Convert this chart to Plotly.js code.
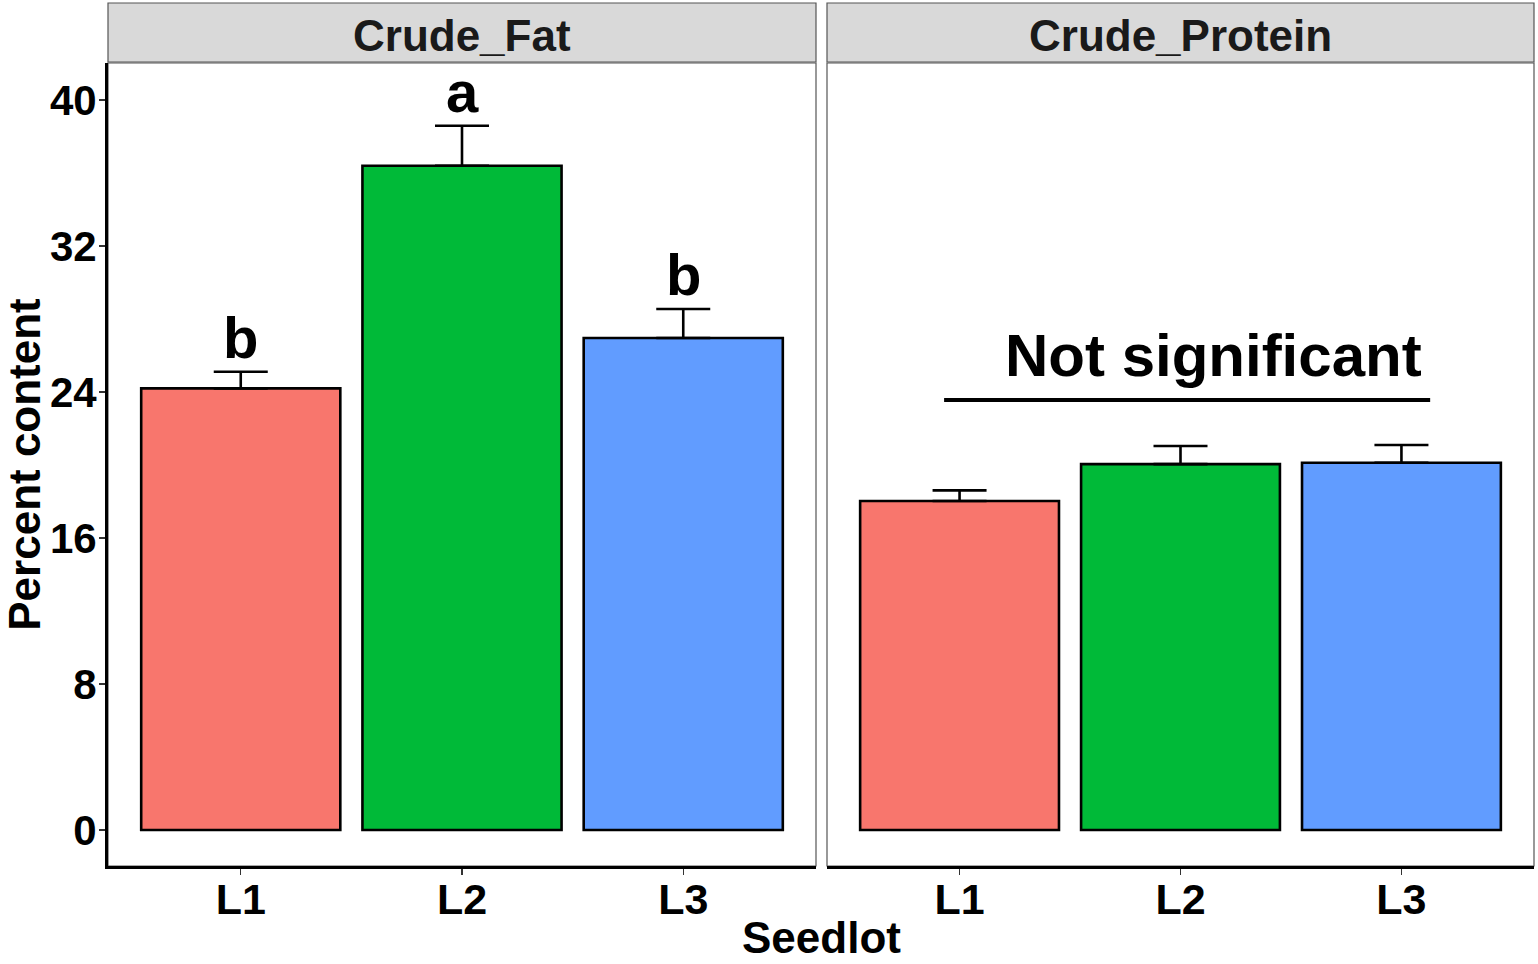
<!DOCTYPE html>
<html>
<head>
<meta charset="utf-8">
<script src="https://cdn.plot.ly/plotly-3.0.1.min.js"></script>
<style>
  html, body { margin: 0; padding: 0; background: #ffffff; }
  #chart { width: 1538px; height: 964px; }
</style>
</head>
<body>
<div id="chart"></div>
<script>
// ---- data ----
const seedlots = ['L1', 'L2', 'L3'];
const panels = ['Crude_Fat', 'Crude_Protein'];
const barColors = ['#F8766D', '#00BA38', '#619CFF'];

const fatMean = [24.2, 36.4, 26.96];
const fatSE = [0.91, 2.19, 1.59];
const fatLetters = ['b', 'a', 'b'];

const proteinMean = [18.03, 20.05, 20.13];
const proteinSE = [0.58, 0.99, 0.97];

const nsLabel = 'Not significant';
const nsLineX = [-0.07, 2.13];
const nsLineY = 23.56;

const yTicks = [0, 8, 16, 24, 32, 40];
const yTitle = 'Percent content';
const xTitle = 'Seedlot';

// ---- layout constants ----
const W = 1538, H = 964;
const FONT = 'Liberation Sans, Arial, Helvetica, sans-serif';
const xDom1 = [108 / W, 816 / W];
const xDom2 = [827 / W, 1534 / W];
const yDom = [(H - 866) / H, (H - 63) / H];
const stripY = [(H - 62) / H, (H - 3) / H];

function barTrace(mean, se, xa, ya) {
  return {
    type: 'bar',
    x: seedlots,
    y: mean,
    xaxis: xa,
    yaxis: ya,
    width: 0.9,
    marker: { color: barColors, line: { color: '#000000', width: 2.6 } },
    error_y: {
      type: 'data',
      symmetric: false,
      array: se,
      arrayminus: se.map(() => 0),
      color: '#000000',
      thickness: 2.6,
      width: 27
    },
    showlegend: false,
    hoverinfo: 'x+y'
  };
}

const data = [
  barTrace(fatMean, fatSE, 'x', 'y'),
  barTrace(proteinMean, proteinSE, 'x2', 'y2')
];

const tickFont = { family: FONT, size: 43, color: '#000000', weight: 'bold' };

function xAxis(dom, anchor) {
  return {
    domain: dom, anchor: anchor,
    type: 'category', categoryorder: 'array', categoryarray: seedlots,
    range: [-0.6, 2.6],
    showgrid: false, zeroline: false,
    showline: true, linecolor: '#000000', linewidth: 3,
    ticks: 'outside', ticklen: 6, tickwidth: 1.2, tickcolor: '#333333',
    ticklabelstandoff: -13,
    tickfont: tickFont, fixedrange: true
  };
}

function yAxis(anchor, showLabels) {
  return {
    domain: yDom, anchor: anchor,
    range: [-1.97, 42.03],
    tickmode: 'array', tickvals: yTicks, ticktext: yTicks.map(String),
    showticklabels: showLabels,
    showgrid: false, zeroline: false,
    showline: showLabels, linecolor: '#000000', linewidth: 3,
    ticks: showLabels ? 'outside' : '', ticklen: 6, tickwidth: 1.2, tickcolor: '#333333',
    ticklabelstandoff: -6,
    tickfont: { family: FONT, size: 42, color: '#000000', weight: 'bold' }, fixedrange: true
  };
}

const layout = {
  width: W, height: H,
  margin: { l: 0, r: 0, t: 0, b: 0 },
  paper_bgcolor: '#ffffff', plot_bgcolor: '#ffffff',
  bargap: 0.1,
  xaxis: xAxis(xDom1, 'y'),
  yaxis: Object.assign(yAxis('x', true), {
    title: { text: yTitle, font: { family: FONT, size: 44, color: '#000000', weight: 'bold' }, standoff: 8 }
  }),
  xaxis2: xAxis(xDom2, 'y2'),
  yaxis2: yAxis('x2', false),
  shapes: [
    // panel borders (thin grey)
    { type: 'rect', xref: 'paper', yref: 'paper', x0: xDom1[0], x1: xDom1[1], y0: yDom[0], y1: yDom[1],
      line: { color: '#555555', width: 1.2 }, layer: 'below' },
    { type: 'rect', xref: 'paper', yref: 'paper', x0: xDom2[0], x1: xDom2[1], y0: yDom[0], y1: yDom[1],
      line: { color: '#555555', width: 1.2 }, layer: 'below' },
    // strips
    { type: 'rect', xref: 'paper', yref: 'paper', x0: xDom1[0], x1: xDom1[1], y0: stripY[0], y1: stripY[1],
      fillcolor: '#D9D9D9', line: { color: '#555555', width: 1.2 } },
    { type: 'rect', xref: 'paper', yref: 'paper', x0: xDom2[0], x1: xDom2[1], y0: stripY[0], y1: stripY[1],
      fillcolor: '#D9D9D9', line: { color: '#555555', width: 1.2 } },
    // "Not significant" bar
    { type: 'line', xref: 'x2', yref: 'y2', x0: nsLineX[0], x1: nsLineX[1], y0: nsLineY, y1: nsLineY,
      line: { color: '#000000', width: 4 } }
  ],
  annotations: [
    // strip labels
    { xref: 'paper', yref: 'paper', x: (xDom1[0] + xDom1[1]) / 2, y: (stripY[0] + stripY[1]) / 2, yshift: -3,
      text: panels[0], showarrow: false, xanchor: 'center', yanchor: 'middle',
      font: { family: FONT, size: 44, color: '#1a1a1a', weight: 'bold' } },
    { xref: 'paper', yref: 'paper', x: (xDom2[0] + xDom2[1]) / 2, y: (stripY[0] + stripY[1]) / 2, yshift: -3,
      text: panels[1], showarrow: false, xanchor: 'center', yanchor: 'middle',
      font: { family: FONT, size: 44, color: '#1a1a1a', weight: 'bold' } },
    // shared x title
    { xref: 'paper', yref: 'paper', x: (xDom1[0] + xDom2[1]) / 2, y: 0, yshift: 0,
      text: xTitle, showarrow: false, xanchor: 'center', yanchor: 'bottom',
      font: { family: FONT, size: 44, color: '#000000', weight: 'bold' } },
    // not significant label
    { xref: 'x2', yref: 'y2', x: 1.15, y: nsLineY, yshift: 9,
      text: nsLabel, showarrow: false, xanchor: 'center', yanchor: 'bottom',
      font: { family: FONT, size: 60, color: '#000000', weight: 'bold' } }
  ].concat(seedlots.map((s, i) => ({
    xref: 'x', yref: 'y', x: s, y: fatMean[i] + fatSE[i],
    text: fatLetters[i], showarrow: false, xanchor: 'center', yanchor: 'bottom', yshift: 0,
    font: { family: FONT, size: 58, color: '#000000', weight: 'bold' }
  })))
};

Plotly.newPlot('chart', data, layout, { displayModeBar: false, staticPlot: true });
</script>
</body>
</html>
